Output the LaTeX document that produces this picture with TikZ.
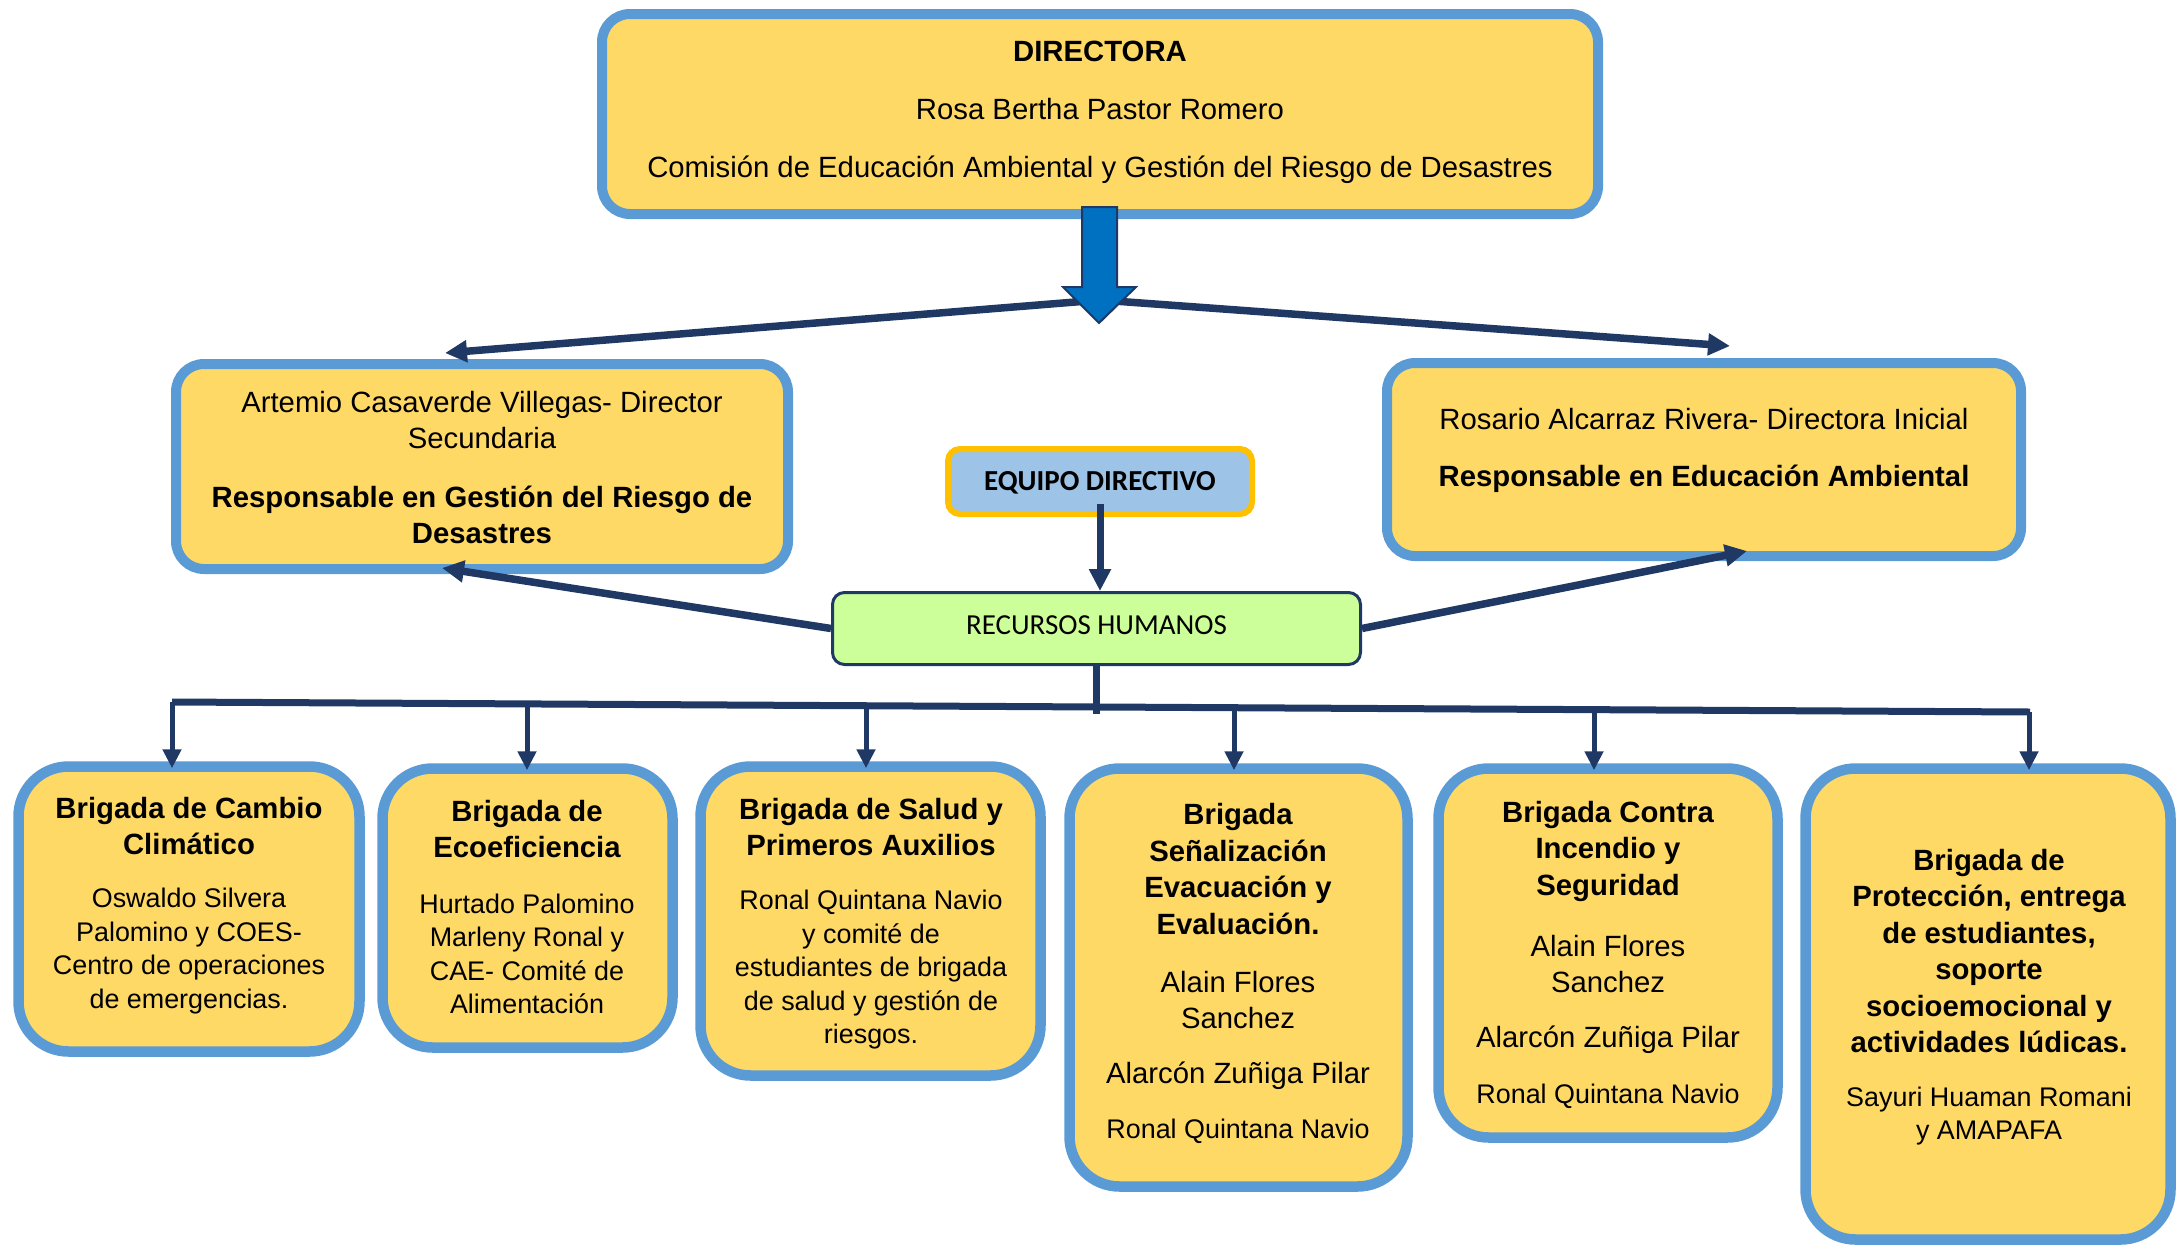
\documentclass[tikz,border=0pt]{standalone}
\usepackage{fontspec}
\setmainfont{Liberation Sans}
\newfontfamily\carlito{Carlito}
\usetikzlibrary{arrows.meta}
\definecolor{navy}{HTML}{203864}
\definecolor{boxfill}{HTML}{FFD966}
\definecolor{boxline}{HTML}{5B9BD5}
\definecolor{arrowblue}{HTML}{0070C0}
\definecolor{eqfill}{HTML}{9DC3E6}
\definecolor{eqline}{HTML}{FFC000}
\definecolor{rhfill}{HTML}{CCFF99}
\begin{document}
\begin{tikzpicture}[x=1pt,y=-1pt,
  ybox/.style={draw=boxline,fill=boxfill,line width=10pt,rounded corners=28pt,inner sep=0pt},
  bbox/.style={draw=boxline,fill=boxfill,line width=10.5pt,rounded corners=50pt,inner sep=0pt},
  txt/.style={align=center,inner sep=0pt,font=\fontsize{29.3}{36}\selectfont},
  ttl/.style={align=center,inner sep=0pt,font=\fontsize{29.3}{36.5}\selectfont\bfseries},
  bdy/.style={align=center,inner sep=0pt,font=\fontsize{26.9}{33.5}\selectfont},
  bdyl/.style={align=center,inner sep=0pt,font=\fontsize{29.3}{36}\selectfont},
  conn/.style={draw=navy,line width=7.5pt,-{Triangle[length=22pt,width=21pt]}},
  dropline/.style={draw=navy,line width=5pt,shorten >=-7pt,-{Triangle[length=19pt,width=18pt]}},
  bar/.style={draw=navy,line width=7pt}
]
\useasboundingbox (0,0) rectangle (2179,1248);

% top box
\node[ybox,minimum width=996pt,minimum height=200pt] (top) at (1100,114) {};
\node[txt,font=\fontsize{29.3}{58}\selectfont] (toptxt) at (1100,112) {\textbf{DIRECTORA}\\Rosa Bertha Pastor Romero\\Comisión de Educación Ambiental y Gestión del Riesgo de Desastres};

% left and right boxes
\node[ybox,minimum width=612pt,minimum height=205pt] (lb) at (482,466.5) {};
\node[txt] (lbt1) at (482,420) {Artemio Casaverde Villegas- Director\\Secundaria};
\node[txt,font=\fontsize{29.3}{36}\selectfont\bfseries] (lbt2) at (482,515) {Responsable en Gestión del Riesgo de\\Desastres};

\node[ybox,minimum width=634pt,minimum height=193pt] (rb) at (1704,459.5) {};
\node[txt] (rbt1) at (1704,419) {Rosario Alcarraz Rivera- Directora Inicial};
\node[txt,font=\fontsize{29.3}{36}\selectfont\bfseries] (rbt2) at (1704,479) {Responsable en Educación Ambiental};

% equipo directivo and recursos humanos
\node[draw=eqline,fill=eqfill,line width=6pt,rounded corners=12pt,minimum width=304pt,minimum height=65pt,inner sep=0pt] (eq) at (1100,481.5) {};
\node[inner sep=0pt,font=\carlito\fontsize{29}{34}\selectfont\bfseries] (eqt) at (1100,483) {EQUIPO DIRECTIVO};
\node[draw=navy,fill=rhfill,line width=3pt,rounded corners=12pt,minimum width=528pt,minimum height=72pt,inner sep=0pt] (rh) at (1096.5,628.5) {};
\node[inner sep=0pt,font=\carlito\fontsize{29}{34}\selectfont] (rht) at (1096.5,625) {RECURSOS HUMANOS};

% top connectors
\coordinate (hub) at (1100,300);
\draw[conn] (hub) -- ([xshift=-37pt,yshift=6pt]lb.north);
\draw[conn] (hub) -- ([xshift=26pt,yshift=12pt]rb.north);
\draw[fill=arrowblue,draw=navy,line width=2pt] (1082,207) -- (1117,207) -- (1117,287) -- (1136,287) -- (1099,323) -- (1063,287) -- (1082,287) -- cycle;

\draw[conn,line width=7pt] ([yshift=-22pt]eq.center) -- (eq.center |- rh.north);
\draw[conn] (rh.west) -- ([xshift=-40pt,yshift=6pt]lb.south);
\draw[conn] (rh.east) -- ([xshift=43pt,yshift=10pt]rb.south);

% bottom boxes
\node[bbox,minimum width=341pt,minimum height=285pt] (b1) at (189,909) {};
\node[bbox,minimum width=290pt,minimum height=279pt] (b2) at (527.5,908) {};
\node[bbox,minimum width=340pt,minimum height=309pt] (b3) at (870.5,921) {};
\node[bbox,minimum width=338pt,minimum height=418pt] (b4) at (1238.5,977.5) {};
\node[bbox,minimum width=339pt,minimum height=369pt] (b5) at (1608,953) {};
\node[bbox,minimum width=365pt,minimum height=471pt] (b6) at (1988,1004) {};

% tree
\coordinate (bus) at (1096.5,714);
\coordinate (busL) at (172,702);
\coordinate (busR) at (2030,712);
\draw[bar] (rh.south) -- (bus);
\draw[bar] (busL) -- (busR);
\coordinate (d1) at (172,702);
\coordinate (d2) at (527,703.9);
\coordinate (d3) at (866,705.7);
\coordinate (d4) at (1234,707.7);
\coordinate (d5) at (1594,709.7);
\coordinate (d6) at (2029,712);
\draw[dropline] (d1) -- (d1 |- b1.north);
\draw[dropline] (d2) -- (d2 |- b2.north);
\draw[dropline] (d3) -- (d3 |- b3.north);
\draw[dropline] (d4) -- (d4 |- b4.north);
\draw[dropline] (d5) -- (d5 |- b5.north);
\draw[dropline] (d6) -- (d6 |- b6.north);

% bottom texts
\node[ttl] (b1t) at (189,826) {Brigada de Cambio\\Climático};
\node[bdy] (b1b) at (189,951) {Oswaldo Silvera\\Palomino y COES-\\Centro de operaciones\\de emergencias.};

\node[ttl] (b2t) at (527,829) {Brigada de\\Ecoeficiencia};
\node[bdy] (b2b) at (527,954) {Hurtado Palomino\\Marleny Ronal y\\CAE- Comité de\\Alimentación};

\node[ttl] (b3t) at (871,827) {Brigada de Salud y\\Primeros Auxilios};
\node[bdy] (b3b) at (871,970) {Ronal Quintana Navio\\y comité de\\estudiantes de brigada\\de salud y gestión de\\riesgos.};

\node[ttl] (b4t) at (1238,869) {Brigada\\Señalización\\Evacuación y\\Evaluación.};
\node[bdyl] (b4a) at (1238,1000) {Alain Flores\\Sanchez};
\node[bdyl] (b4b) at (1238,1076) {Alarcón Zuñiga Pilar};
\node[bdy] (b4c) at (1238,1131) {Ronal Quintana Navio};

\node[ttl] (b5t) at (1608,851) {Brigada Contra\\Incendio y\\Seguridad};
\node[bdyl] (b5a) at (1608,964) {Alain Flores\\Sanchez};
\node[bdyl] (b5b) at (1608,1040) {Alarcón Zuñiga Pilar};
\node[bdy] (b5c) at (1608,1096) {Ronal Quintana Navio};

\node[ttl] (b6t) at (1989,951) {Brigada de\\Protección, entrega\\de estudiantes,\\soporte\\socioemocional y\\actividades lúdicas.};
\node[bdy] (b6b) at (1989,1116) {Sayuri Huaman Romani\\y AMAPAFA};
\end{tikzpicture}
\end{document}
